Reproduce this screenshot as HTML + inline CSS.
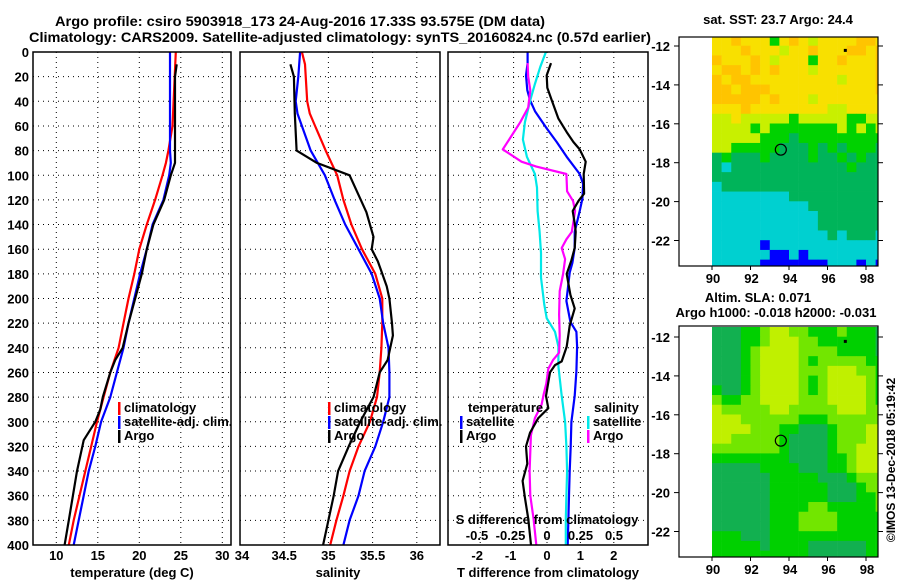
<!DOCTYPE html>
<html><head><meta charset="utf-8"><style>
html,body{margin:0;padding:0;background:#fff;}
svg{display:block;}
text{font-family:"Liberation Sans",sans-serif;font-weight:bold;fill:#000;}
</style></head><body>
<svg id="fig" width="900" height="580" viewBox="0 0 900 580" xmlns="http://www.w3.org/2000/svg">
<rect width="900" height="580" fill="#fff"/>
<text x="55" y="26" font-size="14" textLength="490" lengthAdjust="spacingAndGlyphs">Argo profile: csiro 5903918_173 24-Aug-2016 17.33S 93.575E (DM data)</text>
<text x="29" y="42" font-size="14" textLength="622" lengthAdjust="spacingAndGlyphs">Climatology: CARS2009. Satellite-adjusted climatology: synTS_20160824.nc (0.57d earlier)</text>
<g id="g"></g>
</svg>
<script>
// ---------- data ----------
const depthTicks=[0,20,40,60,80,100,120,140,160,180,200,220,240,260,280,300,320,340,360,380,400];
const tempTicks=[10,15,20,25,30];
const salTicks=[34,34.5,35,35.5,36];
const salTickLabels=["34","34.5","35","35.5","36"];
const dTTicks=[-2,-1,0,1,2];
const dSTicks=[-0.5,-0.25,0,0.25,0.5];
const dSTickLabels=["-0.5","-0.25","0","0.25","0.5"];

const tClimDepth=[0,60,80,90,100,120,140,160,180,200,220,240,260,280,300,320,340,360,380,400];
const tClimVal=[24.4,24.0,23.5,23.2,22.8,21.9,20.9,20.0,19.4,18.7,18.1,17.5,16.5,15.7,14.9,14.2,13.5,12.8,12.1,11.5];
const tSatDepth=[0,80,90,100,120,140,160,180,200,220,240,260,280,300,320,340,360,380,400];
const tSatVal=[23.7,23.7,23.8,23.6,22.9,21.6,20.9,20.1,19.4,18.7,18.1,17.3,16.5,15.4,14.7,13.9,13.3,12.7,12.1];
const tArgoDepth=[10,20,90,100,120,140,160,180,200,220,240,250,260,280,290,300,315,340,360,380,400];
const tArgoVal=[24.5,24.3,24.3,23.8,23.0,21.7,20.9,20.3,19.5,18.7,18.0,17.1,16.5,15.6,15.3,14.7,13.3,12.5,12.0,11.5,11.0];

const sClimDepth=[0,10,40,50,60,80,100,120,140,160,180,200,220,240,260,280,300,320,340,360,380,400];
const sClimVal=[34.70,34.735,34.76,34.79,34.85,34.97,35.10,35.17,35.26,35.38,35.53,35.61,35.61,35.60,35.58,35.55,35.47,35.34,35.24,35.17,35.09,35.02];
const sSatDepth=[0,20,40,50,60,80,100,120,140,160,180,200,220,240,260,280,300,320,340,360,380,400];
const sSatVal=[34.68,34.66,34.63,34.65,34.70,34.80,34.96,35.07,35.19,35.34,35.49,35.58,35.62,35.68,35.69,35.69,35.62,35.53,35.41,35.34,35.24,35.17];
const sArgoDepth=[10,20,50,80,90,100,130,150,160,170,190,200,220,230,250,260,280,300,320,340,360,380,400];
const sArgoVal=[34.57,34.61,34.62,34.64,34.87,35.24,35.43,35.51,35.49,35.56,35.66,35.69,35.72,35.73,35.67,35.58,35.51,35.36,35.23,35.11,35.06,35.00,34.94];

const dTSatDepth=[0,9,19,31,39,48,62,73,85,99,107,119,129,146,159,171,179,202,219,227,239,259,279,300,320,340,360,379,400];
const dTSatVal=[-0.58,-0.58,-0.63,-0.59,-0.51,-0.36,-0.01,0.29,0.59,0.98,1.08,1.06,0.98,0.83,0.83,0.76,0.68,0.58,0.70,0.88,0.90,0.88,0.83,0.73,0.71,0.68,0.66,0.64,0.62];
const dTArgoDepth=[9,19,29,39,54,65,73,79,89,99,115,121,129,141,146,159,169,180,197,208,222,239,251,254,260,279,289,297,309,320,334,348,362,379,400];
const dTArgoVal=[0.12,-0.01,0.01,0.14,0.34,0.59,0.79,0.98,1.16,1.10,1.11,0.94,0.77,0.84,0.86,0.83,0.73,0.59,0.70,0.83,0.68,0.59,0.44,0.24,0.09,-0.03,0.04,-0.26,-0.51,-0.63,-0.59,-0.73,-0.66,-0.56,-0.48];
const dSSatDepth=[0,12,26,39,57,71,85,99,110,129,146,163,183,205,216,227,239,255,279,300,320,340,360,379,400];
const dSSatVal=[-0.008,-0.05,-0.09,-0.125,-0.165,-0.18,-0.15,-0.09,-0.075,-0.07,-0.055,-0.045,-0.045,-0.02,-0.002,0.06,0.085,0.085,0.11,0.135,0.145,0.15,0.145,0.14,0.14];
const dSArgoDepth=[9,20,31,45,57,79,89,93,99,113,121,129,146,152,159,168,180,194,213,230,244,250,257,269,278,286,297,311,340,360,379,400];
const dSArgoVal=[-0.145,-0.14,-0.125,-0.14,-0.2,-0.33,-0.19,-0.08,0.145,0.15,0.195,0.21,0.185,0.145,0.11,0.135,0.12,0.095,0.09,0.095,0.09,0.045,0.01,-0.005,-0.025,-0.04,-0.09,-0.12,-0.13,-0.125,-0.1,-0.08];

const lonTicks=[90,92,94,96,98];
const latTicks=[-12,-14,-16,-18,-20,-22];
const sstRows=["556555356545555665","555655545565556656","655565455535565556","566565655545555556","656655555555545556","665666555555555556","666665655545555555","555655555555445555","445444443444443344","444434333333343434","444443332333333333","443333322232323332","232223222232232322","212222222222223222","222222222222222222","122222222222222222","111111112222222222","111111111122222222","111111111112222222","111111111112222222","111111111111212221","111110111111111111","111111001011111111","111110000000111010"];
const slaRows=["000112332211121110","000112333221111110","000123333222211110","000123333212222211","000123333222333221","000123333212333321","100123333212333321","211223333222333321","322222332222233322","333222222111222222","333322211000122233","332222210000122233","222222210000122333","111111110000112333","000001111000112333","000000111110001222","000000111111000122","000000111111000112","000000111122111112","000000111222211111","000000111222211111","111000111111111111","111110111100000011","111111111100000011"];
const sstColors=["#0000ff","#00d0d0","#00b45a","#00d200","#c8f000","#f8e000","#ffc400"];
const slaColors=["#12b050","#00d000","#72e600","#c0f000"];
const argoLon=93.575, argoLat=-17.33;

// ---------- drawing ----------
const NS="http://www.w3.org/2000/svg";
const G=document.getElementById('g');
function mk(tag,attrs,parent){const e=document.createElementNS(NS,tag);for(const k in attrs)e.setAttribute(k,attrs[k]);(parent||G).appendChild(e);return e;}
function txt(x,y,s,size,anchor,parent){const t=mk('text',{x:x,y:y,'font-size':size||13,'text-anchor':anchor||'middle'},parent);t.textContent=s;return t;}

const Y0=52,Y1=545;
const yD=d=>Y0+(d/400)*(Y1-Y0);
const panels=[
 {name:'temperature-panel',x0:33,x1:231,sx:v=>56.3+(v-10)*8.3},
 {name:'salinity-panel',x0:240,x1:440,sx:v=>240+(v-34)*88.4},
 {name:'difference-panel',x0:448,x1:648,sx:v=>547+v*33.4}
];
const sS=v=>547+v*134;

function line(xs,ys,sx,color,name,parent){
  const pts=xs.map((v,i)=>sx(v).toFixed(1)+','+yD(ys[i]).toFixed(1)).join(' ');
  const p=mk('polyline',{points:pts,fill:'none',stroke:color,'stroke-width':2.2,'stroke-linejoin':'round'},parent);
  
  
}

panels.forEach((P,pi)=>{
  const g=mk('g',{});
  
  
  const cp=mk('clipPath',{id:'cp'+pi},g);mk('rect',{x:P.x0,y:Y0,width:P.x1-P.x0,height:Y1-Y0},cp);
  depthTicks.forEach(d=>{if(d>0&&d<400)mk('line',{x1:P.x0,x2:P.x1,y1:yD(d),y2:yD(d),stroke:'#000','stroke-width':1,'stroke-dasharray':'1,4'},g);});
  const vt=pi==0?tempTicks:pi==1?salTicks:dTTicks;
  vt.forEach(v=>{const x=P.sx(v);if(x>P.x0+1&&x<P.x1-1)mk('line',{x1:x,x2:x,y1:Y0,y2:Y1,stroke:'#000','stroke-width':1,'stroke-dasharray':'1,4'},g);});
  const c=mk('g',{'clip-path':'url(#cp'+pi+')'},g);
  if(pi==0){
    line(tClimVal,tClimDepth,P.sx,'#ff0000','temp-climatology-line',c);
    line(tSatVal,tSatDepth,P.sx,'#0000ff','temp-satellite-line',c);
    line(tArgoVal,tArgoDepth,P.sx,'#000','temp-argo-line',c);
    tempTicks.forEach(v=>txt(P.sx(v),560,String(v),13,'middle',g));
    txt(132,577,'temperature (deg C)',13,'middle',g);
    depthTicks.forEach(d=>txt(29,yD(d)+5,String(d),13,'end',g));
  } else if(pi==1){
    line(sClimVal,sClimDepth,P.sx,'#ff0000','sal-climatology-line',c);
    line(sSatVal,sSatDepth,P.sx,'#0000ff','sal-satellite-line',c);
    line(sArgoVal,sArgoDepth,P.sx,'#000','sal-argo-line',c);
    salTicks.forEach((v,i)=>txt(P.sx(v)+(i==0?2:0),560,salTickLabels[i],13,'middle',g));
    txt(338,577,'salinity',13,'middle',g);
  } else {
    line(dTSatVal,dTSatDepth,P.sx,'#0000ff','dT-satellite-line',c);
    line(dSSatVal,dSSatDepth,sS,'#00e8e8','dS-satellite-line',c);
    line(dSArgoVal,dSArgoDepth,sS,'#ff00ff','dS-argo-line',c);
    line(dTArgoVal,dTArgoDepth,P.sx,'#000','dT-argo-line',c);
    dTTicks.forEach(v=>txt(P.sx(v)+(v<0?-3:0),560,String(v),13,'middle',g));
    txt(548,577,'T difference from climatology',13,'middle',g);
    txt(547,524,'S difference from climatology',13,'middle',g);
    dSTicks.forEach((v,i)=>txt(sS(v)+(v<0?-3:0),540,dSTickLabels[i],13,'middle',g));
  }
  mk('rect',{x:P.x0,y:Y0,width:P.x1-P.x0,height:Y1-Y0,fill:'none',stroke:'#000','stroke-width':1.5},g);
});

function legend(x,y,color,label){
  const g=mk('g',{});
  
  
  mk('rect',{x:x,y:y-10,width:2.5,height:13,fill:color},g);
  txt(x+6,y,label,13,'start',g);
}
legend(118,412,'#ff0000','climatology');legend(118,426,'#0000ff','satellite-adj. clim.');legend(118,440,'#000','Argo');
legend(328,412,'#ff0000','climatology');legend(328,426,'#0000ff','satellite-adj. clim.');legend(328,440,'#000','Argo');
txt(468,412,'temperature',13,'start');
legend(460,426,'#0000ff','satellite');legend(460,440,'#000','Argo');
txt(594,412,'salinity',13,'start');
legend(587,426,'#00e8e8','satellite');legend(587,440,'#ff00ff','Argo');

const LX=v=>712+(v-90)*19.25;
function map(top,bot,latTopPx,rows,colors,name){
  const g=mk('g',{});
  
  
  const LY=v=>latTopPx+(-12-v)*19.45;
  const cid='cl'+name;
  const cp=mk('clipPath',{id:cid},g);mk('rect',{x:711,y:top,width:878-711,height:bot-top},cp);
  const cg=mk('g',{'clip-path':'url(#'+cid+')'},g);
  rows.forEach((r,i)=>{
    const lat=-11.5-0.5*i;
    for(let j=0;j<r.length;j++){
      const lon=90+0.5*j;
      const cell=mk('rect',{x:LX(lon),y:LY(lat)-0.3,width:9.9,height:10.1,fill:colors[+r[j]]},cg);
      
      
    }
  });
  mk('rect',{x:679,y:top,width:199,height:bot-top,fill:'none',stroke:'#000','stroke-width':1.2},g);
  latTicks.forEach(v=>{const y=LY(v);txt(670,y+5,String(v),13,'end',g);mk('line',{x1:878,x2:883,y1:y,y2:y,stroke:'#000'},g);mk('line',{x1:674,x2:679,y1:y,y2:y,stroke:'#000'},g);});
  lonTicks.forEach(v=>{txt(LX(v)+1,bot+17,String(v),13,'middle',g);mk('line',{x1:LX(v),x2:LX(v),y1:bot,y2:bot+4,stroke:'#000'},g);});
  const c=mk('circle',{cx:LX(argoLon),cy:LY(argoLat),r:5.5,fill:'none',stroke:'#000','stroke-width':1.2},g);
  
  
  mk('rect',{x:LX(96.9)-1,y:LY(-12.2)-1,width:3,height:3,fill:'#000'},g);
  return g;
}
map(37,266,46,sstRows,sstColors,'sst-map');
txt(778,24,'sat. SST: 23.7 Argo: 24.4',13,'middle');
map(326,557,337,slaRows,slaColors,'sla-map');
txt(758,302,'Altim. SLA: 0.071',13,'middle');
txt(776,317,'Argo h1000: -0.018 h2000: -0.031',13,'middle');
const cr=txt(0,0,'©IMOS 13-Dec-2018 05:19:42',12,'middle');
cr.setAttribute('transform','translate(895,460) rotate(-90)');
cr.setAttribute('font-weight','normal');


</script>
</body></html>
